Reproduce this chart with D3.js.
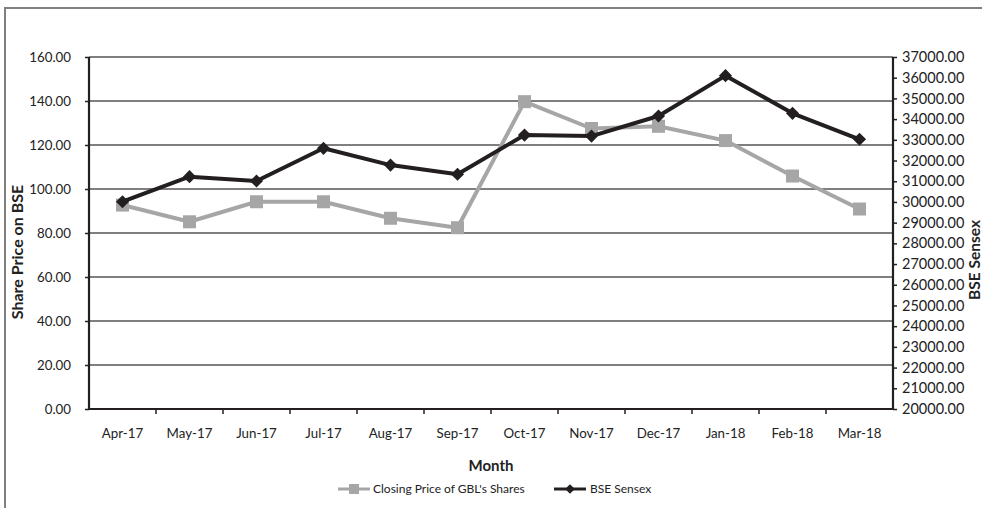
<!DOCTYPE html>
<html><head><meta charset="utf-8">
<script src="https://cdn.jsdelivr.net/npm/d3@7/dist/d3.min.js"></script>
<style>body{margin:0;background:#fff}svg{display:block;font-family:Lato,"Open Sans",sans-serif}</style>
</head><body><svg id="c" width="982" height="508"></svg>
<script>
const months = ["Apr-17","May-17","Jun-17","Jul-17","Aug-17","Sep-17","Oct-17","Nov-17","Dec-17","Jan-18","Feb-18","Mar-18"];
const gblPrice = [92.7,85.1,94.2,94.2,86.7,82.4,139.7,127.5,128.5,122.0,105.9,90.9];
const sensex = [30010,31220,31010,32590,31780,31335,33230,33180,34150,36100,34280,33025];
const leftTicks = [0,20,40,60,80,100,120,140,160];
const rightTicks = d3.range(20000,37001,1000);
const seriesNames = ["Closing Price of GBL's Shares","BSE Sensex"];

const svg = d3.select("#c");
const m = {l:89, r:893, t:57, b:409};
const x = d3.scaleBand().domain(months).range([m.l,m.r]);
const yL = d3.scaleLinear().domain([0,160]).range([m.b,m.t]);
const yR = d3.scaleLinear().domain([20000,37000]).range([m.b,m.t]);
const grey="#a6a6a6", dark="#231f20";

// frame
svg.append("path").attr("d","M5,508V8H982").attr("fill","none").attr("stroke","#808080").attr("stroke-width",2);

// gridlines
svg.append("g").selectAll("line").data(leftTicks.slice(1)).join("line")
  .attr("x1",m.l).attr("x2",m.r).attr("y1",d=>yL(d)).attr("y2",d=>yL(d))
  .attr("stroke","#555").attr("stroke-width",1.4);

// axes
const fmt = d3.format(".2f");
const gL = svg.append("g").attr("transform",`translate(${m.l},0)`)
  .call(d3.axisLeft(yL).tickValues(leftTicks).tickFormat(fmt).tickSize(4).tickPadding(14));
const gR = svg.append("g").attr("transform",`translate(${m.r},0)`)
  .call(d3.axisRight(yR).tickValues(rightTicks).tickFormat(fmt).tickSize(4).tickPadding(5));
const gX = svg.append("g").attr("transform",`translate(0,${m.b})`)
  .call(d3.axisBottom(x).tickSize(0).tickPadding(20));
// category boundary ticks
gX.selectAll("line.bt").data(months.slice(1)).join("line").attr("class","bt")
  .attr("x1",d=>x(d)).attr("x2",d=>x(d)).attr("y1",0).attr("y2",5).attr("stroke",dark).attr("stroke-width",1.5);
[gL,gR,gX].forEach(g=>{
  g.select(".domain").attr("stroke",dark).attr("stroke-width",2.2);
  g.selectAll(".tick line").attr("stroke",dark).attr("stroke-width",1.5);
  g.selectAll("text").attr("fill","#222").attr("font-size",13.3).attr("font-family","Lato,'Open Sans',sans-serif");
});
gR.selectAll("text").attr("font-size",14.5);
gL.select(".domain").attr("d",`M0,${m.b+1}V${m.t}`);
gR.select(".domain").attr("d",`M0,${m.b+1}V${m.t}`);
gX.select(".domain").attr("d",`M${m.l-1},0H${m.r+1}`);

// lines
const lineL = d3.line().x((d,i)=>x(months[i])+x.bandwidth()/2).y(d=>yL(d));
const lineR = d3.line().x((d,i)=>x(months[i])+x.bandwidth()/2).y(d=>yR(d));
svg.append("path").attr("d",lineL(gblPrice)).attr("fill","none").attr("stroke",grey).attr("stroke-width",4).attr("stroke-linejoin","round");
svg.append("g").selectAll("rect").data(gblPrice).join("rect")
  .attr("x",(d,i)=>x(months[i])+x.bandwidth()/2-6.5).attr("y",d=>yL(d)-6.5)
  .attr("width",13).attr("height",13).attr("fill",grey);
svg.append("path").attr("d",lineR(sensex)).attr("fill","none").attr("stroke",dark).attr("stroke-width",4).attr("stroke-linejoin","round");
const diamond = d3.symbol().type(d3.symbolDiamond2).size(110);
svg.append("g").selectAll("path").data(sensex).join("path")
  .attr("d",diamond).attr("transform",(d,i)=>`translate(${x(months[i])+x.bandwidth()/2},${yR(d)})`).attr("fill",dark);

// titles
svg.append("text").attr("transform","translate(23,252) rotate(-90)").attr("text-anchor","middle")
  .attr("font-size",16).attr("font-weight","bold").attr("fill","#222").text("Share Price on BSE");
svg.append("text").attr("transform","translate(980,260) rotate(-90)").attr("text-anchor","middle")
  .attr("font-size",15.5).attr("font-weight","bold").attr("fill","#222").text("BSE Sensex");
svg.append("text").attr("x",491).attr("y",471).attr("text-anchor","middle")
  .attr("font-size",15).attr("font-weight","bold").attr("fill","#222").text("Month");

// legend
const lg = svg.append("g");
lg.append("line").attr("x1",338).attr("x2",370).attr("y1",489).attr("y2",489).attr("stroke",grey).attr("stroke-width",3);
lg.append("rect").attr("x",349).attr("y",484).attr("width",10).attr("height",10).attr("fill",grey);
lg.append("text").attr("x",373).attr("y",493).attr("font-size",12).attr("fill","#222").text(seriesNames[0]);
lg.append("line").attr("x1",554).attr("x2",586).attr("y1",489).attr("y2",489).attr("stroke",dark).attr("stroke-width",3);
lg.append("path").attr("d",d3.symbol().type(d3.symbolDiamond2).size(60)).attr("transform","translate(570,489)").attr("fill",dark);
lg.append("text").attr("x",590).attr("y",493).attr("font-size",12).attr("fill","#222").text(seriesNames[1]);
</script></body></html>
